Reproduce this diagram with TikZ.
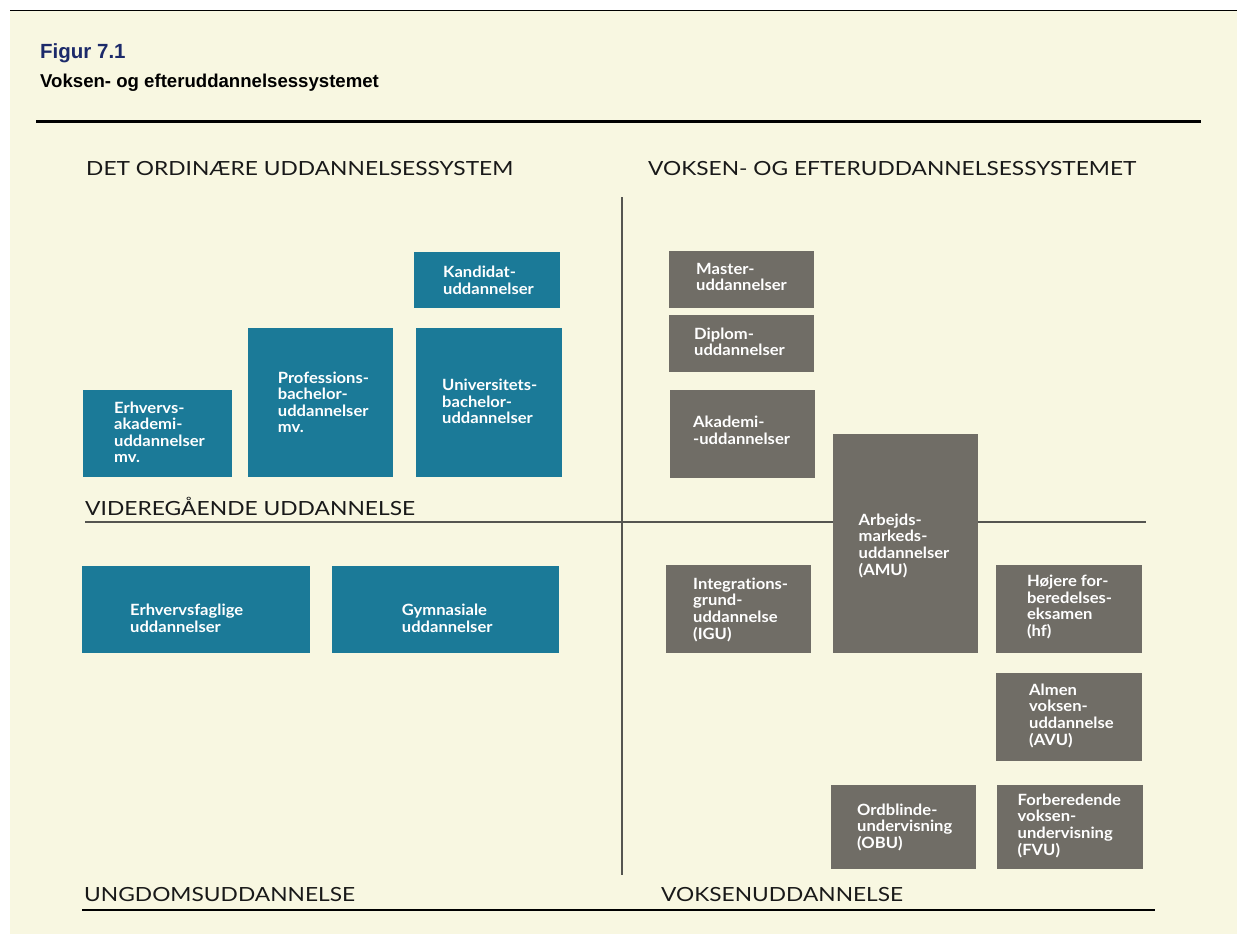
\documentclass[tikz,border=0pt]{standalone}
\usepackage{fontspec}
\usepackage{graphicx}
\setmainfont{Lato}[Ligatures=NoCommon]
\newfontfamily\libsans{Liberation Sans}
\definecolor{cream}{RGB}{248,247,225}
\definecolor{bluecol}{RGB}{27,122,152}
\definecolor{graycol}{RGB}{112,109,102}
\definecolor{navy}{RGB}{28,42,106}
\definecolor{rulecol}{RGB}{85,85,80}
\definecolor{headcol}{RGB}{25,25,25}
\newlength\fwlen
\newcommand\fitw[2]{\settowidth\fwlen{#2}\pgfmathsetmacro\fwr{#1/\fwlen}\scalebox{\fwr}[1]{#2}}
\newcommand\bt[1]{\scalebox{1.07}[1]{\begin{tabular}[t]{@{}l@{}}#1\end{tabular}}}
\begin{document}
\begin{tikzpicture}[x=1pt,y=-1pt,
  blueb/.style={fill=bluecol,draw=none,inner sep=0,outer sep=0,anchor=north west},
  grayb/.style={fill=graycol,draw=none,inner sep=0,outer sep=0,anchor=north west},
  btxt/.style={text=white,font=\fontsize{15.5}{16.5}\selectfont\bfseries,inner sep=0,anchor=base west},
  head/.style={text=headcol,font=\fontsize{19.5}{22}\selectfont,inner sep=0,anchor=base west},
  thinrule/.style={draw=rulecol,line width=1.8pt}]
\useasboundingbox (0,0) rectangle (1237,934);
\fill[white] (0,0) rectangle (1237,934);
\fill[cream] (10,10) rectangle (1237,934);
\draw[black,line width=1pt] (10,10.3) -- (1237,10.3);
% title
\node[text=navy,font=\libsans\fontsize{20.5}{24}\selectfont\bfseries,inner sep=0,anchor=base west] (fig) at (40,59) {Figur 7.1};
\node[text=black,font=\libsans\fontsize{18.6}{22}\selectfont\bfseries,inner sep=0,anchor=base west] (sub) at (40,87.3) {Voksen- og efteruddannelsessystemet};
\draw[black,line width=3pt] (36,121) -- (1201,121);
% axes
\draw[thinrule] (85,522) -- (1146,522);
\draw[thinrule] (622,197) -- (622,875);
\draw[black,line width=2.5pt] (82,910) -- (1155,910);
% headings
\node[head] (h1) at (86,175) {\fitw{427}{DET ORDINÆRE UDDANNELSESSYSTEM}};
\node[head] (h2) at (648,175) {\fitw{488}{VOKSEN- OG EFTERUDDANNELSESSYSTEMET}};
\node[head] (h3) at (85,515) {\fitw{330}{VIDEREGÅENDE UDDANNELSE}};
\node[head] (h4) at (84,901.7) {\fitw{271}{UNGDOMSUDDANNELSE}};
\node[head] (h5) at (661,901.7) {\fitw{242}{VOKSENUDDANNELSE}};
% blue boxes
\node[blueb,minimum width=146,minimum height=56] (kand) at (414,252) {};
\node[blueb,minimum width=145,minimum height=149] (prof) at (248,328) {};
\node[blueb,minimum width=145.7,minimum height=149] (univ) at (416,328) {};
\node[blueb,minimum width=149,minimum height=87] (erhv) at (83,390) {};
\node[blueb,minimum width=228,minimum height=87] (erhf) at (82,566) {};
\node[blueb,minimum width=227,minimum height=87] (gym) at (332,566) {};
% gray boxes
\node[grayb,minimum width=144.6,minimum height=56.7] (master) at (669,251) {};
\node[grayb,minimum width=144.6,minimum height=56.7] (diplom) at (669,315) {};
\node[grayb,minimum width=145,minimum height=88] (akad) at (669.6,390) {};
\node[grayb,minimum width=145,minimum height=219] (amu) at (832.5,434.3) {};
\node[grayb,minimum width=145.7,minimum height=87.7] (igu) at (665.7,565) {};
\node[grayb,minimum width=145.4,minimum height=88] (hf) at (996.4,565.3) {};
\node[grayb,minimum width=145.4,minimum height=88] (avu) at (996.4,672.7) {};
\node[grayb,minimum width=145,minimum height=84.3] (obu) at (830.7,785) {};
\node[grayb,minimum width=145.5,minimum height=84.3] (fvu) at (997,785) {};
% box texts
\node[btxt] (tkand) at (443,277.7) {\bt{Kandidat-\\uddannelser}};
\node[btxt] (tprof) at (277.7,383) {\bt{Professions-\\bachelor-\\uddannelser\\mv.}};
\node[btxt] (tuniv) at (442,390.7) {\bt{Universitets-\\bachelor-\\uddannelser}};
\node[btxt] (terhv) at (114,413) {\bt{Erhvervs-\\akademi-\\uddannelser\\mv.}};
\node[btxt] (terhf) at (130,615.7) {\bt{Erhvervsfaglige\\uddannelser}};
\node[btxt] (tgym) at (401.7,615.7) {\bt{Gymnasiale\\uddannelser}};
\node[btxt] (tmaster) at (696,274) {\bt{Master-\\uddannelser}};
\node[btxt] (tdiplom) at (694,339) {\bt{Diplom-\\uddannelser}};
\node[btxt] (takad) at (693,427.7) {\bt{Akademi-\\-uddannelser}};
\node[btxt] (tamu) at (858.5,525) {\bt{Arbejds-\\markeds-\\uddannelser\\(AMU)}};
\node[btxt] (tigu) at (693,589) {\bt{Integrations-\\grund-\\uddannelse\\(IGU)}};
\node[btxt] (thf) at (1026.8,586.7) {\bt{Højere for-\\beredelses-\\eksamen\\(hf)}};
\node[btxt] (tavu) at (1029,695) {\bt{Almen\\voksen-\\uddannelse\\(AVU)}};
\node[btxt] (tobu) at (857,815) {\bt{Ordblinde-\\undervisning\\(OBU)}};
\node[btxt] (tfvu) at (1017.5,805) {\bt{Forberedende\\voksen-\\undervisning\\(FVU)}};
\end{tikzpicture}
\end{document}
